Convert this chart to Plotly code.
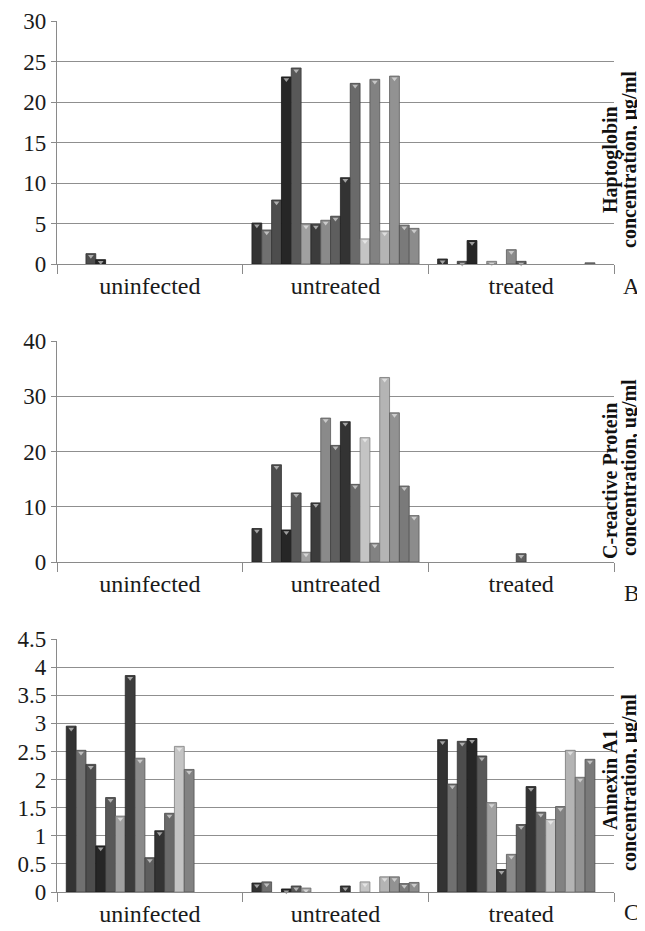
import plotly.graph_objects as go

categories = ["uninfected", "untreated", "treated"]

# Haptoglobin (µg/ml), 17 animals per group
hp_uninfected = [None, None, 1.28, 0.54, None, None, None, None, None, None, None, None, None, None, None, None, None]
hp_untreated = [5.06, 4.2, 7.9, 23.1, 24.2, 4.94, 4.9, 5.4, 5.9, 10.66, 22.3, 3.1, 22.8, 4.07, 23.2, 4.8, 4.4]
hp_treated = [0.62, None, 0.33, 2.9, None, 0.33, None, 1.77, 0.33, None, None, None, None, None, None, 0.15, None]

# C-reactive protein (µg/ml)
crp_uninfected = [None] * 17
crp_untreated = [6.06, None, 17.6, 5.8, 12.5, 1.76, 10.7, 26.05, 21.1, 25.4, 14.05, 22.5, 3.4, 33.4, 27.0, 13.75, 8.4]
crp_treated = [None, None, None, None, None, None, None, None, 1.5, None, None, None, None, None, None, None, None]

# Annexin A1 (µg/ml)
anx_uninfected = [2.95, 2.52, 2.27, 0.82, 1.68, 1.35, 3.85, 2.38, 0.61, 1.09, 1.40, 2.59, 2.18, None, None, None, None]
anx_untreated = [0.16, 0.18, None, 0.054, 0.107, 0.07, None, None, None, 0.107, None, 0.18, None, 0.27, 0.27, 0.15, 0.17]
anx_treated = [2.71, 1.92, 2.68, 2.73, 2.42, 1.59, 0.40, 0.67, 1.2, 1.875, 1.42, 1.29, 1.52, 2.52, 2.04, 2.36, None]

series_colors = ["#333333", "#707070", "#4d4d4d", "#262626", "#585858", "#a0a0a0", "#3c3c3c",
                 "#8a8a8a", "#5e5e5e", "#333333", "#6a6a6a", "#c4c4c4", "#828282", "#b4b4b4",
                 "#929292", "#7a7a7a", "#8c8c8c"]

panels = [
    dict(data=[hp_uninfected, hp_untreated, hp_treated], ymax=30, dtick=5,
         l1="Haptoglobin", l2="concentration, μg/ml", c1=160, c2=160, letter="A", ly=287),
    dict(data=[crp_uninfected, crp_untreated, crp_treated], ymax=40, dtick=10,
         l1="C-reactive Protein", l2="concentration, ug/ml", c1=481, c2=468, letter="B", ly=593),
    dict(data=[anx_uninfected, anx_untreated, anx_treated], ymax=4.5, dtick=0.5,
         l1="Annexin A1", l2="concentration, μg/ml", c1=780, c2=783, letter="C", ly=912),
]

# page offset: the HTML body has an 8px margin
OFF = 8
W, H = 645 - OFF, 931 - OFF
# plot area in page pixels
L, R, T, B = 57, 614, 21, 892
domains = [[(B - 264) / (B - T), 1.0], [(B - 562) / (B - T), (B - 341) / (B - T)], [0.0, (B - 639) / (B - T)]]

SERIF = "Liberation Serif"


def px2x(px):
    return (px - L) / (R - L)


def px2y(py):
    return (B - py) / (B - T)


def lighten(hexc, f):
    r, g, b = int(hexc[1:3], 16), int(hexc[3:5], 16), int(hexc[5:7], 16)
    r, g, b = [int(c + (255 - c) * f) for c in (r, g, b)]
    return "#%02x%02x%02x" % (r, g, b)


def darken(hexc, f):
    r, g, b = int(hexc[1:3], 16), int(hexc[3:5], 16), int(hexc[5:7], 16)
    r, g, b = [int(c * (1 - f)) for c in (r, g, b)]
    return "#%02x%02x%02x" % (r, g, b)


fig = go.Figure()
annotations = []

for p_i, p in enumerate(panels):
    xa = "x" if p_i == 0 else "x%d" % (p_i + 1)
    ya = "y" if p_i == 0 else "y%d" % (p_i + 1)
    for s in range(17):
        vals = [p["data"][g][s] for g in range(3)]
        fig.add_trace(go.Bar(
            x=categories, y=vals, xaxis=xa, yaxis=ya,
            marker=dict(color=series_colors[s], line=dict(color=darken(series_colors[s], 0.35), width=0.8)),
            showlegend=False, hoverinfo="skip",
        ))
    for s in range(17):
        vals = [p["data"][g][s] for g in range(3)]
        tri = [None if v is None else v - p["ymax"] * 0.011 for v in vals]
        fig.add_trace(go.Scatter(
            x=categories, y=tri, xaxis=xa, yaxis=ya, mode="markers",
            marker=dict(symbol="triangle-down", size=5, color=lighten(series_colors[s], 0.55), line=dict(width=0)),
            showlegend=False, hoverinfo="skip", cliponaxis=False,
        ))
    ax_common = dict(anchor=ya, domain=[0, 1], showline=True, linecolor="#8a8a8a", linewidth=1.3,
                     ticks="outside", tickson="boundaries", ticklen=9, tickcolor="#8a8a8a", tickwidth=1.3,
                     tickfont=dict(family=SERIF, size=24, color="#1a1a1a"), showgrid=False,
                     fixedrange=True, automargin=False)
    ay_common = dict(anchor=xa, domain=domains[p_i], range=[0, p["ymax"]], dtick=p["dtick"], tick0=0,
                     showline=True, linecolor="#8a8a8a", linewidth=1.3, ticks="outside", ticklen=5,
                     tickcolor="#8a8a8a", tickwidth=1.3, tickfont=dict(family=SERIF, size=23, color="#1a1a1a"),
                     showgrid=True, gridcolor="#8f8f8f", gridwidth=1.3, zeroline=False, fixedrange=True,
                     automargin=False)
    key = "" if p_i == 0 else str(p_i + 1)
    fig.update_layout(**{"xaxis" + key: ax_common, "yaxis" + key: ay_common})

    lab_font = dict(family=SERIF, size=20, color="#111111")
    annotations.append(dict(text="<b>%s</b>" % p["l1"], x=px2x(610), y=px2y(p["c1"]), xref="paper", yref="paper",
                            textangle=-90, showarrow=False, font=lab_font, xanchor="center", yanchor="middle"))
    annotations.append(dict(text="<b>%s</b>" % p["l2"], x=px2x(629), y=px2y(p["c2"]), xref="paper", yref="paper",
                            textangle=-90, showarrow=False, font=lab_font, xanchor="center", yanchor="middle"))
    annotations.append(dict(text=p["letter"], x=px2x(631), y=px2y(p["ly"]), xref="paper", yref="paper",
                            showarrow=False, xanchor="center", yanchor="middle",
                            font=dict(family=SERIF, size=23, color="#1a1a1a")))

fig.update_layout(
    width=W, height=H,
    margin=dict(l=L - OFF, r=(645 - OFF) - (R - OFF) - 0, t=T - OFF, b=(931 - OFF) - (B - OFF), pad=0, autoexpand=False),
    barmode="group", bargap=0.1, bargroupgap=0,
    scattermode="group", scattergap=0.1,
    plot_bgcolor="white", paper_bgcolor="white",
    annotations=annotations, showlegend=False,
)

fig.write_html("out.html")
